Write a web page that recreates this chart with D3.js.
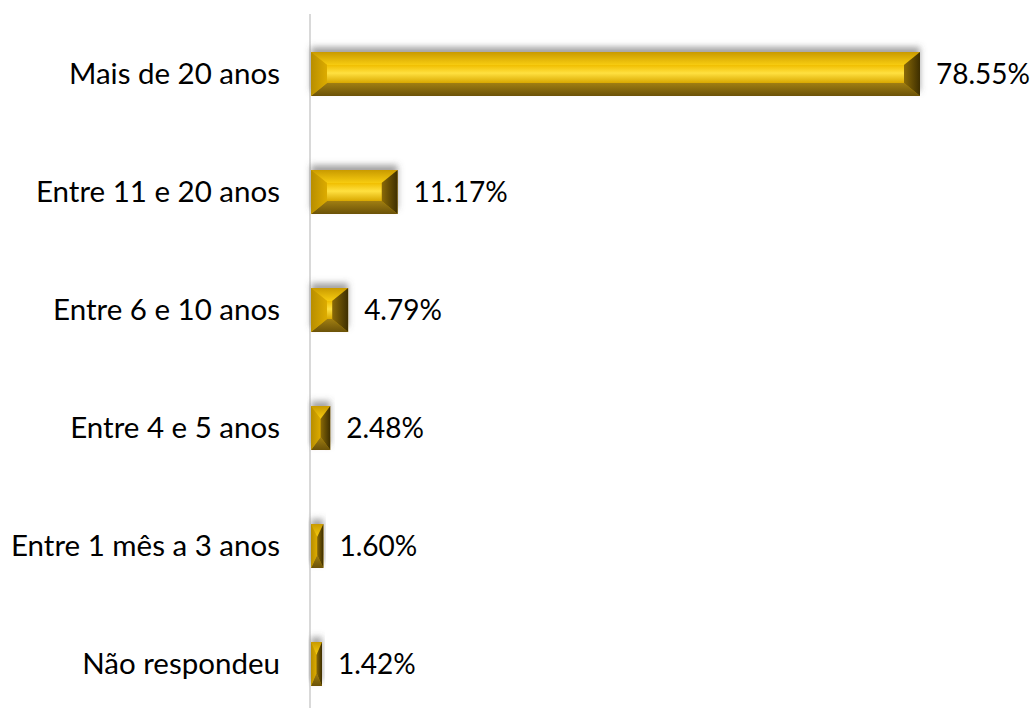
<!DOCTYPE html>
<html><head><meta charset="utf-8">
<script src="https://cdn.jsdelivr.net/npm/d3@7"></script>
<style>html,body{margin:0;padding:0;background:#fff;}</style>
</head><body>
<svg id="chart" width="1033" height="711"></svg>
<script>
const categories = ["Mais de 20 anos","Entre 11 e 20 anos","Entre 6 e 10 anos","Entre 4 e 5 anos","Entre 1 mês a 3 anos","Não respondeu"];
const values = [78.55, 11.17, 4.79, 2.48, 1.60, 1.42];
const valueLabels = ["78.55%","11.17%","4.79%","2.48%","1.60%","1.42%"];

const svg = d3.select("#chart");
const x0 = 311;
const x = d3.scaleLinear().domain([0, 78.55]).range([x0, 920]);
const y = d3.scaleBand().domain(categories).range([15, 723]).paddingInner(0.627).paddingOuter(0.3135);

const defs = svg.append("defs");
const f = defs.append("filter").attr("id","sh").attr("x","-20%").attr("y","-60%").attr("width","140%").attr("height","200%");
f.append("feDropShadow").attr("dx",0).attr("dy",-5).attr("stdDeviation",3).attr("flood-color","#555").attr("flood-opacity",0.55);

function lg(id, stops, vertical){
  const g = defs.append("linearGradient").attr("id",id);
  if (vertical) g.attr("x1",0).attr("y1",0).attr("x2",0).attr("y2",1);
  else g.attr("x1",0).attr("y1",0).attr("x2",1).attr("y2",0);
  stops.forEach(s=>g.append("stop").attr("offset",s[0]).attr("stop-color",s[1]));
}
lg("gTop", [[0,"#c99a00"],[1,"#f7cc10"]], true);
lg("gFace", [[0,"#f0be00"],[0.45,"#ffe040"],[1,"#d9a800"]], true);
lg("gBot", [[0,"#a07e12"],[1,"#6b5208"]], true);
lg("gLeft", [[0,"#b88e00"],[1,"#dcab00"]], false);
lg("gRight", [[0,"#8a6a08"],[1,"#3d2e00"]], false);

svg.append("line").attr("x1",310).attr("x2",310).attr("y1",14).attr("y2",708)
  .attr("stroke","#d9d9d9").attr("stroke-width",2);

const bars = svg.selectAll("g.bar").data(categories).join("g").attr("class","bar");
bars.each(function(c,i){
  const g = d3.select(this);
  const x1 = x(0), x2 = x(values[i]);
  const y1 = y(c), y2 = y(c) + y.bandwidth();
  const w = x2 - x1, h = y2 - y1;
  const bx = Math.min(16, w/2), by = Math.min(13, h/2);
  g.append("rect").attr("x",x1).attr("y",y1).attr("width",w).attr("height",h)
    .attr("fill","#d4a500").attr("filter","url(#sh)");
  const ix1 = x1+bx, ix2 = x2-bx, iy1 = y1+by, iy2 = y2-by;
  const poly = (pts, fill) => g.append("polygon").attr("points", pts.map(p=>p.join(",")).join(" ")).attr("fill",fill);
  poly([[x1,y1],[x2,y1],[ix2,iy1],[ix1,iy1]], "url(#gTop)");
  poly([[x1,y2],[x2,y2],[ix2,iy2],[ix1,iy2]], "url(#gBot)");
  poly([[x1,y1],[ix1,iy1],[ix1,iy2],[x1,y2]], "url(#gLeft)");
  poly([[x2,y1],[ix2,iy1],[ix2,iy2],[x2,y2]], "url(#gRight)");
  if (ix2 > ix1 && iy2 > iy1)
    g.append("rect").attr("x",ix1).attr("y",iy1).attr("width",ix2-ix1).attr("height",iy2-iy1).attr("fill","url(#gFace)");
});

const font = "Lato, Carlito, 'Open Sans', sans-serif";
svg.selectAll("text.cat").data(categories).join("text").attr("class","cat")
  .attr("x",280).attr("y",c=>y(c)+y.bandwidth()/2).attr("dy","0.35em")
  .attr("text-anchor","end").attr("font-family",font)
  .attr("font-size",29.5).attr("fill","#000").text(c=>c);

svg.selectAll("text.val").data(categories).join("text").attr("class","val")
  .attr("x",(c,i)=>x(values[i])+16).attr("y",c=>y(c)+y.bandwidth()/2).attr("dy","0.35em")
  .attr("font-family",font)
  .attr("font-size",28).attr("fill","#000").text((c,i)=>valueLabels[i]);
</script>
</body></html>
